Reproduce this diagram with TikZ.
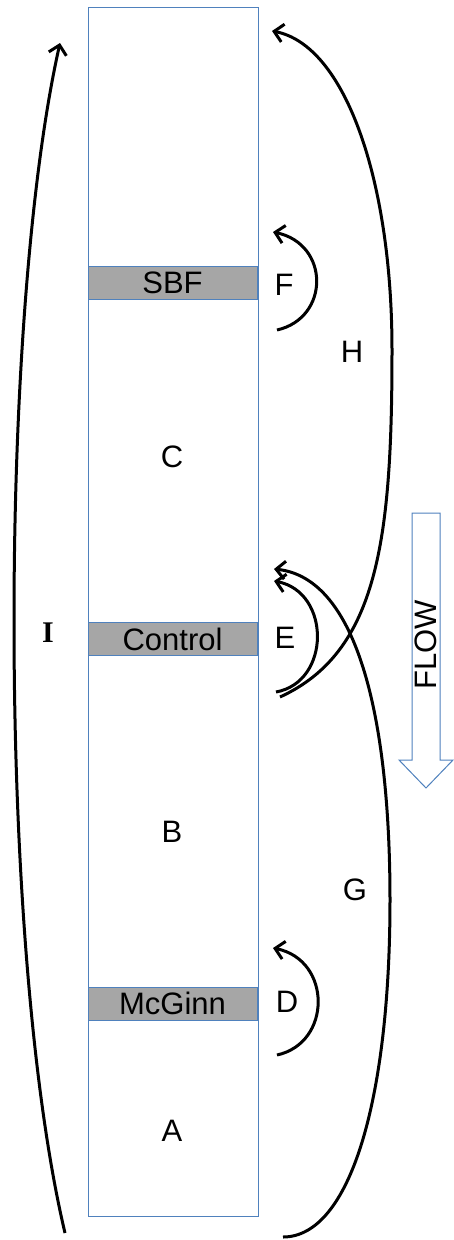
\documentclass[tikz,border=0pt]{standalone}
\usepackage{fontspec}
\setmainfont{Liberation Sans}
\newfontfamily\serifI{Liberation Serif}
\usetikzlibrary{arrows.meta}
\definecolor{boxblue}{RGB}{79,129,189}
\definecolor{bargray}{RGB}{166,166,166}
\begin{document}
\begin{tikzpicture}[x=1pt,y=-1pt,
  lab/.style={font=\fontsize{31}{32}\selectfont, inner sep=0pt},
  bar/.style={draw=boxblue, fill=bargray, line width=1pt, minimum width=169pt, minimum height=33pt, inner sep=0pt, font=\fontsize{31}{32}\selectfont},
  loop/.style={line width=3pt, -{Straight Barb[length=9pt,width=18pt]}}]
\useasboundingbox (0,0) rectangle (454,1240);
% main column
\node[draw=boxblue, line width=1pt, minimum width=170pt, minimum height=1209pt, inner sep=0pt] (col) at (173,611.5) {};
% bars
\node[bar] (sbf) at (172.5,282.5) {SBF};
\node[bar] (ctrl) at (172.5,639) {Control};
\node[bar] (mcg) at (172.5,1003.5) {McGinn};
% zone labels
\node[lab] (lC) at (172,457) {C};
\node[lab] (lB) at (172,832) {B};
\node[lab] (lA) at (172,1131) {A};
\node[lab] (lF) at (284,285) {F};
\node[lab] (lE) at (285,638) {E};
\node[lab] (lD) at (287,1002) {D};
\node[lab] (lH) at (352,352) {H};
\node[lab] (lG) at (355,890) {G};
\node[lab, font=\serifI\bfseries\fontsize{30}{31}\selectfont] (lI) at (48,633) {I};
% endpoints
\coordinate (f0) at (277,330); \coordinate (f1) at (273,232);
\coordinate (e0) at (276,692); \coordinate (e1) at (274,581);
\coordinate (d0) at (277,1055); \coordinate (d1) at (273,948);
\coordinate (h0) at (280,697); \coordinate (h1) at (272,31);
\coordinate (g0) at (283,1237); \coordinate (g1) at (274,569);
\coordinate (i0) at (65,1233); \coordinate (i1) at (60,43);
% loops
\draw[loop] (f0) .. controls (330,318) and (330,244) .. (f1);
\draw[loop] (e0) .. controls (331,682) and (331,592) .. (e1);
\draw[loop] (d0) .. controls (332,1043) and (332,960) .. (d1);
\draw[loop] (h0) .. controls (378,652) and (392,540) .. (392,350) .. controls (392,180) and (345,45) .. (h1);
\draw[loop] (g0) .. controls (350,1237) and (390,1100) .. (390,900) .. controls (390,720) and (358,578) .. (g1);
\draw[loop] (i0) .. controls (-2,950) and (-2,320) .. (i1);
% flow arrow
\draw[boxblue, line width=1pt, fill=white] (412,513) -- (440,513) -- (440,760) -- (453,760) -- (426,788) -- (399,760) -- (412,760) -- cycle;
\node[lab, rotate=90] (flow) at (426,645) {FLOW};
\end{tikzpicture}
\end{document}
